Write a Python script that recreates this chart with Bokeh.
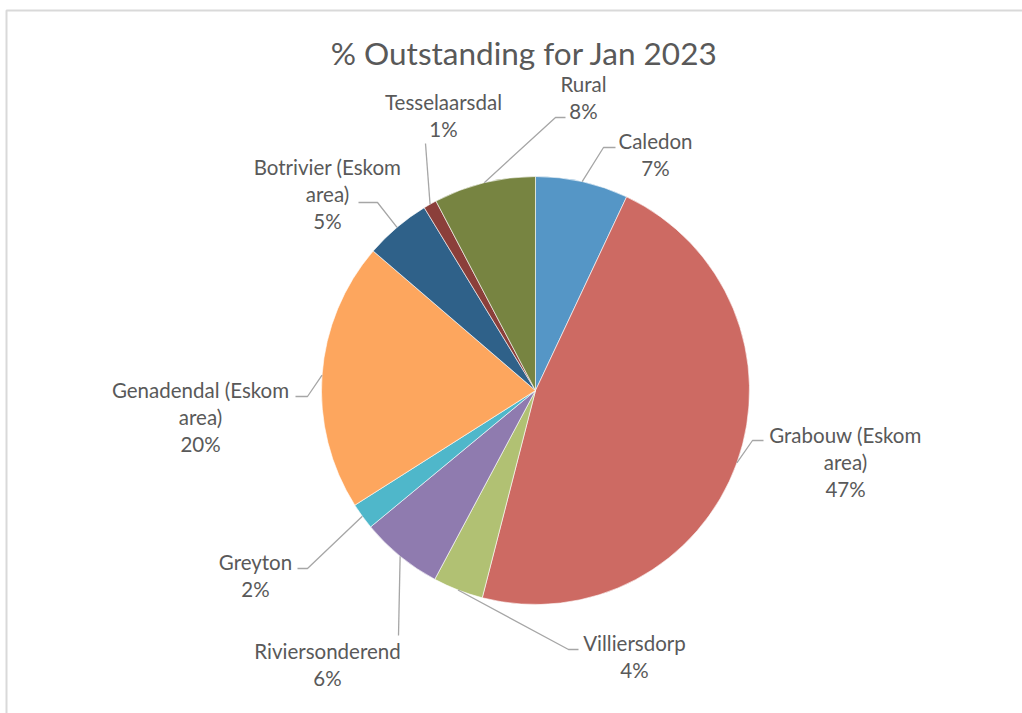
import math
from bokeh.plotting import figure
from bokeh.models import ColumnDataSource
from bokeh.core.properties import value
from bokeh.embed import file_html
from bokeh.resources import INLINE

W, H = 1022, 713

# ---- data ----
categories = ["Caledon", "Grabouw (Eskom area)", "Villiersdorp", "Riviersonderend",
              "Greyton", "Genadendal (Eskom area)", "Botrivier (Eskom area)",
              "Tesselaarsdal", "Rural"]
shares = [7.0, 47.0, 3.8, 6.2, 2.0, 20.3, 5.0, 1.0, 7.7]
colors = ["#5596C6", "#CD6A63", "#B1C173", "#8F7BAF", "#4FB7CA",
          "#FDA65E", "#2F6189", "#8B3F3A", "#778441"]
title_text = "% Outstanding for Jan 2023"

# label lines (text) per category
label_lines = [["Caledon"], ["Grabouw (Eskom", "area)"], ["Villiersdorp"], ["Riviersonderend"],
               ["Greyton"], ["Genadendal (Eskom", "area)"], ["Botrivier (Eskom", "area)"],
               ["Tesselaarsdal"], ["Rural"]]

# ---- layout (pixel space, y measured from top) ----
CX, CY, R = 535, 390, 214
label_pos = [(655, 140), (845, 434), (634, 642), (327, 650), (255, 561),
             (200, 389), (327, 166), (443, 101), (583, 83)]
LINE_H = 27.3
# leader elbow + end points
leaders = [[(603, 147), (615, 147)],
           [(752, 440), (763, 440)],
           [(568, 649), (578, 649)],
           [(398, 635)],
           [(307, 568), (297, 568)],
           [(307, 396), (295, 396)],
           [(377, 202), (358, 202)],
           [(425, 143)],
           [(555, 117), (565, 117)]]

def Y(py):
    return H - py

p = figure(width=W, height=H, x_range=(0, W), y_range=(0, H),
           output_backend="svg", toolbar_location=None,
           min_border=0, outline_line_color=None)
p.axis.visible = False
p.grid.visible = False
p.background_fill_color = "white"
p.border_fill_color = "white"

# chart border (top/left visible)
p.line(x=[6, 6, W + 20], y=[Y(H + 20), Y(10), Y(10)], line_color="#D9D9D9", line_width=2)

# wedges
total = sum(shares)
starts, ends, mids = [], [], []
cum = 0.0
for s in shares:
    t1 = cum / total * 2 * math.pi
    cum += s
    t2 = cum / total * 2 * math.pi
    starts.append(math.pi / 2 - t1)
    ends.append(math.pi / 2 - t2)
    mids.append((t1 + t2) / 2)

src = ColumnDataSource(dict(x=[CX] * len(shares), y=[Y(CY)] * len(shares),
                            start=starts, end=ends, color=colors, cat=categories))
p.wedge(x="x", y="y", radius=R, start_angle="start", end_angle="end",
        direction="clock", fill_color="color", line_color="white", line_width=0.6,
        source=src)

# leader lines
for m, pts in zip(mids, leaders):
    ax = CX + R * math.sin(m)
    ay = CY - R * math.cos(m)
    xs = [ax] + [q[0] for q in pts]
    ys = [Y(ay)] + [Y(q[1]) for q in pts]
    p.line(x=xs, y=ys, line_color="#A6A6A6", line_width=1.3)

# labels
tx, ty, tt = [], [], []
for lines, s, (lx, ly) in zip(label_lines, shares, label_pos):
    allines = lines + ["%d%%" % round(s)]
    for i, t in enumerate(allines):
        tx.append(lx)
        ty.append(Y(ly + i * LINE_H))
        tt.append(t)
p.text(x=tx, y=ty, text=tt, text_align="center", text_baseline="middle",
       text_font=value("Lato"), text_font_size="20.5px", text_color="#595959")

# title
p.text(x=[524], y=[Y(52)], text=[title_text], text_align="center", text_baseline="middle",
       text_font=value("Lato"), text_font_size="31.5px", text_color="#595959")

open("out.html", "w").write(file_html(p, INLINE))
